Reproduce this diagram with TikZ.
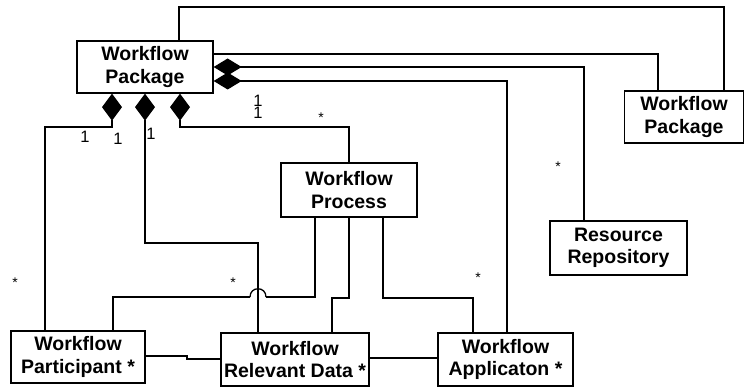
\documentclass[tikz,border=0pt]{standalone}
\usepackage{fontspec}
\setmainfont{Liberation Sans}
\usetikzlibrary{arrows.meta}
\tikzset{
  cls/.style={draw, line width=1.3pt, fill=white, align=center, inner sep=0pt,
    font=\fontsize{19.5}{22.5}\selectfont\bfseries},
  conn/.style={line width=1.3pt},
  compR/.style={conn, {Diamond[length=28pt,width=17pt]}-},
  compB/.style={conn, {Diamond[length=27pt,width=20pt]}-},
  one/.style={font=\fontsize{16.5}{16.5}\selectfont, inner sep=0pt},
  star/.style={font=\fontsize{14}{14}\selectfont, inner sep=0pt},
}
\begin{document}
\begin{tikzpicture}[x=1pt,y=-1pt]
\useasboundingbox (0,0) rectangle (745,387);
% classes
\node[cls, minimum width=136pt, minimum height=52pt] (wp1) at (145,67) {Workflow\\Package};
\node[cls, minimum width=119pt, minimum height=52pt] (wp2) at (684,117) {Workflow\\Package};
\node[cls, minimum width=136pt, minimum height=54pt] (proc) at (349,190) {Workflow\\Process};
\node[cls, minimum width=137pt, minimum height=54pt] (res) at (618.5,248) {Resource\\Repository};
\node[cls, minimum width=134pt, minimum height=52pt] (part) at (78,357) {Workflow\\Participant *};
\node[cls, minimum width=148pt, minimum height=53pt] (rel) at (295,359.5) {Workflow\\Relevant Data *};
\node[cls, minimum width=135pt, minimum height=53pt] (app) at (505.5,359.5) {Workflow\\Applicaton *};
% package to package
\draw[conn] (wp1.north -| 179,0) |- (724,7) -- (wp2.north -| 724,0);
\draw[conn] (wp1.east |- 0,54) -| (wp2.north -| 658,0);
% compositions on the right
\draw[compR] (wp1.east |- 0,67) -| (res.north -| 584,0);
\draw[compR] (wp1.east |- 0,81) -| (app.north -| 507,0);
% compositions below
\draw[compB] (wp1.south -| 112,0) |- (45,127) -- (part.north -| 45,0);
\draw[compB] (wp1.south -| 145,0) |- (258,243) -- (rel.north -| 258,0);
\draw[compB] (wp1.south -| 180,0) |- (349,127) -- (proc.north);
% process associations (with a hop over the crossing line)
\coordinate (hopR) at (266,297);
\coordinate (hopL) at (250,297);
\draw[conn] (proc.south -| 315,0) |- (hopR);
\draw[conn] (hopR) .. controls (266,286) and (250,286) .. (hopL);
\draw[conn] (hopL) -| (part.north -| 113,0);
\draw[conn] (proc.south -| 349,0) |- (332,298) -- (rel.north -| 332,0);
\draw[conn] (proc.south -| 383,0) |- (473,298) -- (app.north -| 473,0);
% bottom row
\draw[conn] (part.east |- 0,356) -- (187,356) -- (187,359) -- (rel.west |- 0,359);
\draw[conn] (rel.east |- 0,358) -- (app.west |- 0,358);
% multiplicities
\node[one] (m1) at (85,137) {1};
\node[one] (m2) at (118,139) {1};
\node[one] (m3) at (151,134) {1};
\node[one] (m4) at (258,101) {1};
\node[one] (m5) at (258,113) {1};
\node[star] (s1) at (321,118) {*};
\node[star] (s2) at (558,167) {*};
\node[star] (s3) at (478,278) {*};
\node[star] (s4) at (15,283) {*};
\node[star] (s5) at (233,283) {*};
\end{tikzpicture}
\end{document}
